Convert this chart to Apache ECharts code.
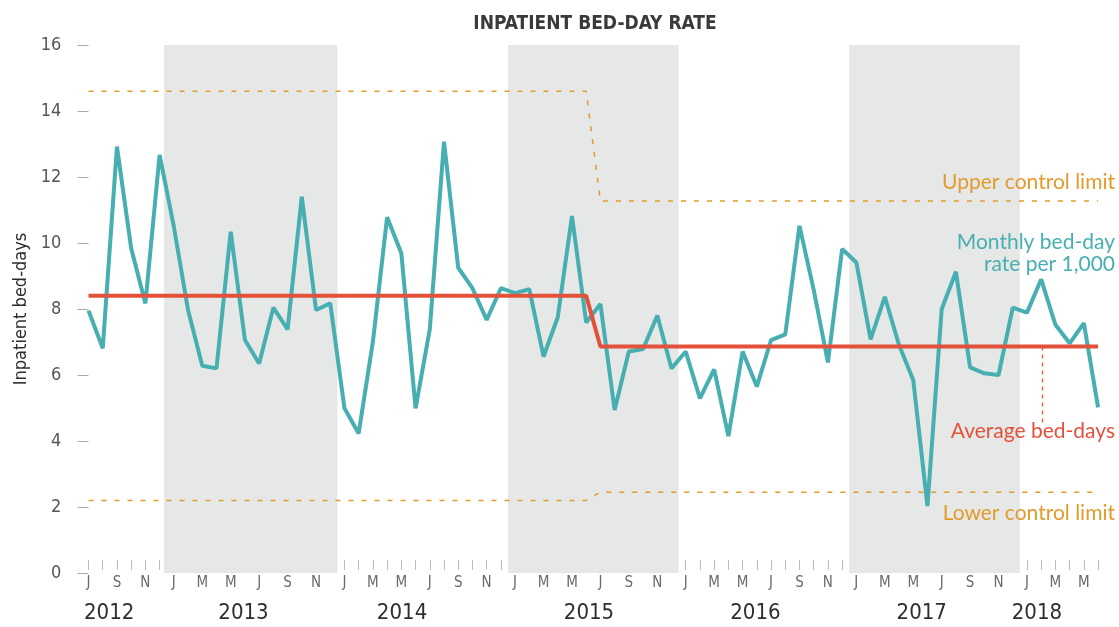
<!DOCTYPE html>
<html>
<head>
<meta charset="utf-8">
<script src="https://cdn.jsdelivr.net/npm/echarts@6/dist/echarts.min.js"></script>
<style>
html,body{margin:0;padding:0;background:#fff;}
#chart{width:1119px;height:627px;}
</style>
</head>
<body>
<div id="chart"></div>
<script>
const categories = ['Jul 2012','Aug 2012','Sep 2012','Oct 2012','Nov 2012','Dec 2012',
  'Jan 2013','Feb 2013','Mar 2013','Apr 2013','May 2013','Jun 2013','Jul 2013','Aug 2013','Sep 2013','Oct 2013','Nov 2013','Dec 2013',
  'Jan 2014','Feb 2014','Mar 2014','Apr 2014','May 2014','Jun 2014','Jul 2014','Aug 2014','Sep 2014','Oct 2014','Nov 2014','Dec 2014',
  'Jan 2015','Feb 2015','Mar 2015','Apr 2015','May 2015','Jun 2015','Jul 2015','Aug 2015','Sep 2015','Oct 2015','Nov 2015','Dec 2015',
  'Jan 2016','Feb 2016','Mar 2016','Apr 2016','May 2016','Jun 2016','Jul 2016','Aug 2016','Sep 2016','Oct 2016','Nov 2016','Dec 2016',
  'Jan 2017','Feb 2017','Mar 2017','Apr 2017','May 2017','Jun 2017','Jul 2017','Aug 2017','Sep 2017','Oct 2017','Nov 2017','Dec 2017',
  'Jan 2018','Feb 2018','Mar 2018','Apr 2018','May 2018','Jun 2018'];

const monthlyRate = [7.95, 6.81, 12.92, 9.84, 8.17, 12.67,
  10.5, 7.97, 6.28, 6.2, 10.34, 7.06, 6.35, 8.04, 7.38, 11.4, 7.97, 8.17,
  4.99, 4.23, 7.01, 10.78, 9.69, 4.99, 7.38, 13.07, 9.25, 8.63, 7.67, 8.63,
  8.48, 8.6, 6.56, 7.75, 10.82, 7.59, 8.15, 4.94, 6.71, 6.79, 7.8, 6.2,
  6.71, 5.29, 6.17, 4.15, 6.71, 5.65, 7.06, 7.23, 10.52, 8.58, 6.38, 9.82,
  9.41, 7.08, 8.37, 6.91, 5.85, 2.03, 7.99, 9.13, 6.23, 6.05, 6.0, 8.04,
  7.89, 8.9, 7.52, 6.96, 7.57, 5.02];

// control limits: month index where each level starts/ends
const limitMonthIdx = [0, 35, 36, 71];
const averageLevels = [8.4, 8.4, 6.86, 6.86];
const upperLevels   = [14.6, 14.6, 11.27, 11.27];
const lowerLevels   = [2.2, 2.2, 2.45, 2.45];

// shaded years (month index ranges, band edges)
const shadedYears = [[5.3, 17.5], [29.5, 41.5], [53.5, 65.5]];

const yearLabels = ['2012','2013','2014','2015','2016','2017','2018'];
const yearLabelPos = [1.45, 10.9, 22.05, 35.2, 46.9, 58.6, 66.7];

const yTicks = [0, 16, 2];
const averageCalloutIdx = 67.1;
const averageCalloutBottom = 4.55;

const pair = (xs, ys) => xs.map((x, i) => [x, ys[i]]);

const ORANGE = '#e39a2c', TEAL = '#47aeb1', RED = '#e4513a';
const labelFont = '"DejaVu Sans Condensed", "DejaVu Sans", sans-serif';
const noteFont = '21px Lato, sans-serif';

const chart = echarts.init(document.getElementById('chart'), null, {renderer: 'canvas'});
chart.setOption({
  animation: false,
  backgroundColor: '#ffffff',
  title: {
    text: 'INPATIENT BED-DAY RATE',
    left: 590, top: 10, textAlign: 'center',
    textStyle: {fontFamily: '"DejaVu Sans Condensed", "DejaVu Sans", sans-serif', fontSize: 19, fontWeight: 'bold', color: '#3a3a3a'}
  },
  grid: {left: 81.4, right: 13.8, top: 45, bottom: 54, containLabel: false},
  xAxis: [
    {
      type: 'category', data: categories, boundaryGap: true, offset: -3,
      axisLine: {show: false},
      axisTick: {show: true, inside: true, length: 10, alignWithLabel: true, interval: 0, lineStyle: {color: '#bdbdbd', width: 1}},
      axisLabel: {interval: 1, margin: 6, color: '#6a6a6a', fontFamily: labelFont, fontSize: 15,
        formatter: v => v.charAt(0)},
      splitLine: {show: false}
    },
    {
      type: 'value', min: -0.5, max: 71.5, position: 'bottom',
      axisLine: {show: false}, axisTick: {show: false}, splitLine: {show: false},
      axisLabel: {show: true, margin: 29, color: '#2e2e2e', fontFamily: labelFont, fontSize: 22,
        customValues: yearLabelPos,
        formatter: v => { const i = yearLabelPos.findIndex(p => Math.abs(p - v) < 1e-6); return i >= 0 ? yearLabels[i] : ''; }}
    }
  ],
  yAxis: {
    type: 'value', min: yTicks[0], max: yTicks[1], interval: yTicks[2],
    name: 'Inpatient bed-days', nameLocation: 'middle', nameGap: 51, nameRotate: 90,
    nameTextStyle: {fontFamily: labelFont, fontSize: 18, color: '#2e2e2e'},
    axisLine: {show: false},
    axisTick: {show: true, inside: false, length: 11, lineStyle: {color: '#aaaaaa', width: 1}},
    axisLabel: {margin: 20, color: '#555', fontFamily: labelFont, fontSize: 18},
    splitLine: {show: false}
  },
  series: [
    {
      name: 'bands', type: 'line', xAxisIndex: 1, data: [], silent: true,
      markArea: {silent: true, itemStyle: {color: '#e6e8e7'},
        data: shadedYears.map(b => [{xAxis: b[0], yAxis: 0}, {xAxis: b[1], yAxis: 16}])}
    },
    {
      name: 'Upper control limit', type: 'line', xAxisIndex: 1, data: pair(limitMonthIdx, upperLevels),
      symbol: 'none', lineStyle: {color: ORANGE, width: 1.5, type: [5, 8]}, z: 3
    },
    {
      name: 'Lower control limit', type: 'line', xAxisIndex: 1, data: pair(limitMonthIdx, lowerLevels),
      symbol: 'none', lineStyle: {color: ORANGE, width: 1.5, type: [5, 8]}, z: 3
    },
    {
      name: 'Monthly bed-day rate per 1,000', type: 'line', xAxisIndex: 0, data: monthlyRate,
      symbol: 'none', lineStyle: {color: TEAL, width: 4}, z: 4
    },
    {
      name: 'Average bed-days', type: 'line', xAxisIndex: 1, data: pair(limitMonthIdx, averageLevels),
      symbol: 'none', lineStyle: {color: RED, width: 4}, z: 5,
      markLine: {silent: true, symbol: 'none', label: {show: false},
        lineStyle: {color: RED, width: 1.2, type: [4, 4]},
        data: [[{coord: [averageCalloutIdx, averageLevels[3]]}, {coord: [averageCalloutIdx, averageCalloutBottom]}]]}
    }
  ],
  graphic: [
    {type: 'text', z: 100, style: {x: 1115, y: 182, text: 'Upper control limit', align: 'right', verticalAlign: 'middle', fill: ORANGE, font: noteFont}},
    {type: 'text', z: 100, style: {x: 1115, y: 242, text: 'Monthly bed-day', align: 'right', verticalAlign: 'middle', fill: TEAL, font: noteFont}},
    {type: 'text', z: 100, style: {x: 1115, y: 264, text: 'rate per 1,000', align: 'right', verticalAlign: 'middle', fill: TEAL, font: noteFont}},
    {type: 'text', z: 100, style: {x: 1115, y: 431, text: 'Average bed-days', align: 'right', verticalAlign: 'middle', fill: RED, font: noteFont}},
    {type: 'text', z: 100, style: {x: 1115, y: 513, text: 'Lower control limit', align: 'right', verticalAlign: 'middle', fill: ORANGE, font: noteFont}}
  ]
});
</script>
</body>
</html>
